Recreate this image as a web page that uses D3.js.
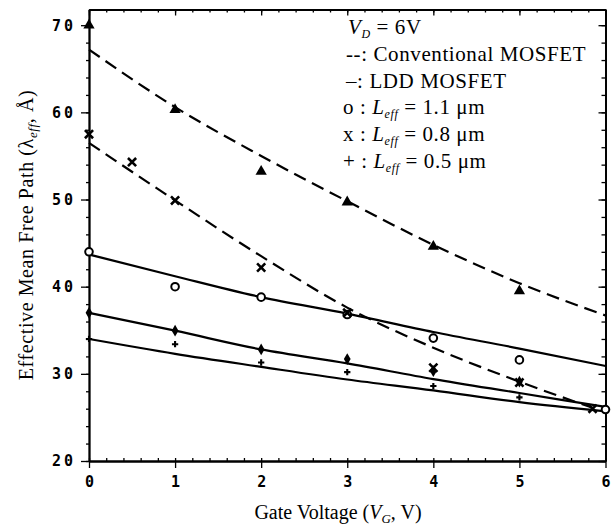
<!DOCTYPE html>
<html>
<head>
<meta charset="utf-8">
<script src="https://cdn.jsdelivr.net/npm/d3@7"></script>
<style>
  body { margin: 0; background: #fff; }
</style>
</head>
<body>
<div id="chart"></div>
<script>
// #####################################################
// Data
//
var lineX = [0, 1, 2, 3, 4, 5, 6];
var convUpper = [67.2, 60.6, 55.0, 49.8, 44.8, 40.4, 36.7];
var convLowerX = [0, 1, 2, 3, 4, 5, 5.85];
var convLower = [56.5, 49.9, 43.5, 37.6, 33.0, 29.1, 26.1];
var lddLong = [43.7, 41.2, 38.8, 36.9, 34.8, 32.9, 30.9];
var lddMid = [37.0, 34.95, 32.8, 31.2, 29.4, 27.8, 26.2];
var lddShort = [34.0, 32.3, 30.8, 29.35, 28.1, 26.75, 25.7];

var triX = [0, 1, 2, 3, 4, 5];
var triY = [70, 60.3, 53.2, 49.7, 44.6, 39.5];
var crossX = [0, 0.5, 1, 2, 3, 4, 5, 5.85];
var crossY = [57.5, 54.3, 49.9, 42.2, 37.0, 30.7, 29.0, 26.0];
var circX = [0, 1, 2, 3, 4, 5, 6];
var circY = [44.0, 40.0, 38.8, 36.8, 34.1, 31.6, 25.9];
var diaX = [0, 1, 2, 3, 4, 5];
var diaY = [37.0, 34.95, 32.8, 31.7, 30.3, 29.1];
var plusX = [0, 1, 2, 3, 4, 5];
var plusY = [34.0, 33.4, 31.3, 30.2, 28.6, 27.3];

var xMajor = [0, 1, 2, 3, 4, 5, 6];
var yMajor = [20, 30, 40, 50, 60, 70];

// #####################################################
// Plot
//
var W = 616, H = 528;
var svg = d3.select("#chart").append("svg")
    .attr("width", W)
    .attr("height", H);

var x = d3.scaleLinear().domain([0, 6]).range([89, 605.5]);
var y = d3.scaleLinear().domain([20, 71.8]).range([461, 9.5]);

var xMinor = d3.range(0, 6.01, 0.2).map(function(v) { return +v.toFixed(1); });
var yMinor = d3.range(20, 71, 2);

var mono = "'DejaVu Sans Mono', monospace";
var serif = "'Liberation Serif', 'Times New Roman', serif";

function styleAxis(g) {
  g.attr("font-size", null).attr("font-family", null);
  g.select(".domain").attr("stroke", "#000").attr("stroke-width", 1.8);
  g.selectAll(".tick line").attr("stroke", "#000").attr("stroke-width", 1.3);
}

// minor ticks
svg.append("g").attr("transform", "translate(0,461)")
    .call(d3.axisBottom(x).tickValues(xMinor).tickSize(-3).tickSizeOuter(0).tickFormat(""))
    .call(styleAxis);
svg.append("g").attr("transform", "translate(0,9.5)")
    .call(d3.axisTop(x).tickValues(xMinor).tickSize(-3).tickSizeOuter(0).tickFormat(""))
    .call(styleAxis);
svg.append("g").attr("transform", "translate(89,0)")
    .call(d3.axisLeft(y).tickValues(yMinor).tickSize(3).tickSizeOuter(0).tickFormat(""))
    .call(styleAxis);
svg.append("g").attr("transform", "translate(605.5,0)")
    .call(d3.axisRight(y).tickValues(yMinor).tickSize(-4).tickSizeOuter(0).tickFormat(""))
    .call(styleAxis);

// major ticks + labels
var xAxis = svg.append("g").attr("transform", "translate(0,461)")
    .call(d3.axisBottom(x).tickValues(xMajor).tickSize(7).tickSizeOuter(0).tickPadding(8)
      .tickFormat(d3.format("d")))
    .call(styleAxis);
xAxis.selectAll(".tick text")
    .style("font-family", mono).style("font-weight", "bold")
    .style("font-size", "15px").attr("fill", "#000");

var yAxis = svg.append("g").attr("transform", "translate(89,0)")
    .call(d3.axisLeft(y).tickValues(yMajor).tickSize(8).tickSizeOuter(0).tickPadding(5)
      .tickFormat(d3.format("d")))
    .call(styleAxis);
yAxis.selectAll(".tick text")
    .style("font-family", mono).style("font-weight", "bold")
    .style("font-size", "15px").attr("fill", "#000")
    .style("letter-spacing", "3px");

svg.append("g").attr("transform", "translate(0,9.5)")
    .call(d3.axisTop(x).tickValues(xMajor).tickSize(-6).tickSizeOuter(0).tickFormat(""))
    .call(styleAxis);
svg.append("g").attr("transform", "translate(605.5,0)")
    .call(d3.axisRight(y).tickValues(yMajor).tickSize(-7).tickSizeOuter(0).tickFormat(""))
    .call(styleAxis);

// #####################################################
// Curves
//
function zipXY(xs, ys) {
  return xs.map(function(v, i) { return [v, ys[i]]; });
}
var line = d3.line()
    .x(function(d) { return x(d[0]); })
    .y(function(d) { return y(d[1]); })
    .curve(d3.curveMonotoneX);

var curves = [
  {pts: zipXY(lineX, convUpper), dash: "13,7"},
  {pts: zipXY(convLowerX, convLower), dash: "13,7"},
  {pts: zipXY(lineX, lddLong), dash: null},
  {pts: zipXY(lineX, lddMid), dash: null},
  {pts: zipXY(lineX, lddShort), dash: null}
];
curves.forEach(function(c) {
  svg.append("path")
      .attr("d", line(c.pts))
      .attr("fill", "none")
      .attr("stroke", "#000")
      .attr("stroke-width", 2.2)
      .attr("stroke-dasharray", c.dash);
});

// #####################################################
// Markers
//
function place(d) { return "translate(" + x(d[0]) + "," + y(d[1]) + ")"; }

svg.selectAll(".tri").data(zipXY(triX, triY)).enter().append("path")
    .attr("class", "tri")
    .attr("d", d3.symbol().type(d3.symbolTriangle).size(55))
    .attr("fill", "#000")
    .attr("transform", place);

svg.selectAll(".circ").data(zipXY(circX, circY)).enter().append("circle")
    .attr("class", "circ")
    .attr("cx", function(d) { return x(d[0]); })
    .attr("cy", function(d) { return y(d[1]); })
    .attr("r", 3.8)
    .attr("fill", "#fff")
    .attr("stroke", "#000")
    .attr("stroke-width", 2);

svg.selectAll(".cross").data(zipXY(crossX, crossY)).enter().append("path")
    .attr("class", "cross")
    .attr("d", d3.symbol().type(d3.symbolX).size(45))
    .attr("fill", "none")
    .attr("stroke", "#000")
    .attr("stroke-width", 2.6)
    .attr("transform", place);

svg.selectAll(".dia").data(zipXY(diaX, diaY)).enter().append("path")
    .attr("class", "dia")
    .attr("d", d3.symbol().type(d3.symbolDiamond).size(40))
    .attr("fill", "#000")
    .attr("transform", place);

svg.selectAll(".plus").data(zipXY(plusX, plusY)).enter().append("path")
    .attr("class", "plus")
    .attr("d", d3.symbol().type(d3.symbolCross).size(22))
    .attr("fill", "#000")
    .attr("transform", place);

// #####################################################
// Axis titles
//
var xt = svg.append("text")
    .attr("x", 338).attr("y", 519)
    .attr("text-anchor", "middle")
    .attr("font-family", serif).attr("font-size", 20);
xt.append("tspan").text("Gate Voltage (");
xt.append("tspan").attr("font-style", "italic").text("V");
xt.append("tspan").attr("font-style", "italic").attr("font-size", 13).attr("dy", 4).text("G");
xt.append("tspan").attr("dy", -4).text(", V)");

var yt = svg.append("text")
    .attr("transform", "translate(33,235) rotate(-90)")
    .attr("text-anchor", "middle")
    .attr("letter-spacing", 0.6)
    .attr("font-family", serif).attr("font-size", 20);
yt.append("tspan").text("Effective Mean Free Path (λ");
yt.append("tspan").attr("font-style", "italic").attr("font-size", 13).attr("dy", 4).text("eff");
yt.append("tspan").attr("dy", -4).text(", Å)");

// #####################################################
// Legend text
//
var legX = 346, legY0 = 34, legStep = 26.8;
var leg = svg.append("g");

function legText(row, dx) {
  return leg.append("text")
      .attr("x", legX + (dx || 0))
      .attr("y", legY0 + row * legStep)
      .attr("font-family", serif)
      .attr("font-size", 21)
      .attr("letter-spacing", 0.6);
}

var t0 = legText(0, 2);
t0.append("tspan").attr("font-style", "italic").text("V");
t0.append("tspan").attr("font-style", "italic").attr("font-size", 12).attr("dy", 4).text("D");
t0.append("tspan").attr("dy", -4).text(" = 6V");

legText(1).text("--: Conventional MOSFET");
legText(2).text("\u2013: LDD MOSFET");

var lengths = ["1.1", "0.8", "0.5"];
var syms = ["o", "x", "+"];
lengths.forEach(function(v, i) {
  var t = legText(3 + i, -3);
  t.append("tspan").text(syms[i] + " : ");
  t.append("tspan").attr("font-style", "italic").text("L");
  t.append("tspan").attr("font-style", "italic").attr("font-size", 12).attr("dy", 4).text("eff");
  t.append("tspan").attr("dy", -4).text(" = " + v + " \u03bcm");
});
</script>
</body>
</html>
